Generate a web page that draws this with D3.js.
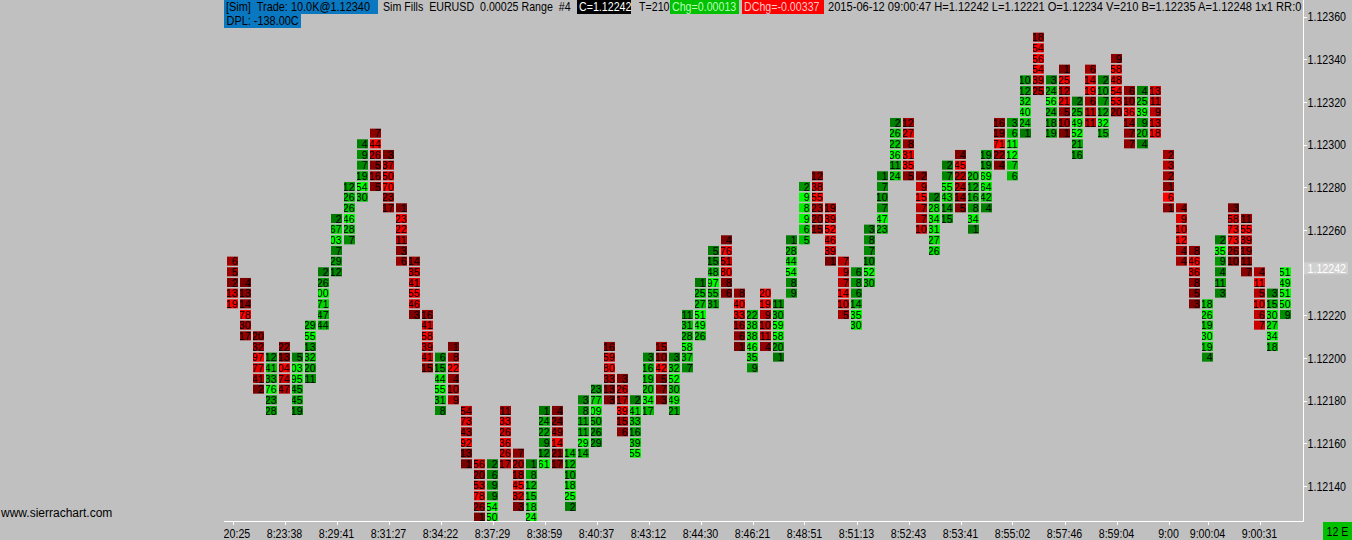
<!DOCTYPE html>
<html><head><meta charset="utf-8">
<script src="https://cdn.jsdelivr.net/npm/d3@7"></script>
<style>
html,body{margin:0;padding:0;background:#c0c0c0;overflow:hidden;}
svg{display:block;}
</style></head><body>
<svg id="c" width="1352" height="540"></svg>
<script>
// ---- data ----
const tickSize = 0.00005;
const barTop = [
 1.12245,1.12235,1.12210,1.12200,1.12205,1.12200,1.12215,1.12240,1.12265,1.12280,
 1.12300,1.12305,1.12295,1.12270,1.12245,1.12220,1.12200,1.12205,1.12175,1.12150,
 1.12150,1.12175,1.12155,1.12150,1.12175,1.12175,1.12155,1.12180,1.12185,1.12205,
 1.12190,1.12180,1.12200,1.12205,1.12200,1.12220,1.12235,1.12250,1.12255,1.12230,
 1.12220,1.12230,1.12225,1.12255,1.12280,1.12285,1.12270,1.12245,1.12240,1.12260,
 1.12285,1.12310,1.12310,1.12285,1.12275,1.12290,1.12295,1.12285,1.12295,1.12310,
 1.12310,1.12330,1.12350,1.12330,1.12335,1.12320,1.12335,1.12330,1.12340,1.12325,
 1.12325,1.12325,1.12295,1.12270,1.12250,1.12225,1.12255,1.12270,1.12265,1.12240,
 1.12230,1.12240];
const barUp = [
 0,0,0,1,0,1,1,1,1,1, 1,0,0,0,0,0,1,0,0,0, 1,0,0,1,1,0,1,1,1,0,
 0,1,1,0,1,1,1,1,0,0, 1,0,1,1,1,0,0,0,1,1, 1,1,0,0,1,1,0,1,1,0,
 1,1,0,1,0,1,0,1,0,0, 1,0,0,0,0,1,1,0,0,0, 1,1];
const barVolumes = [
 [6,5,2,13,19],[4,13,14,78,30,17],[20,32,97,77,41,2],[12,41,33,76,23,28],[22,13,104,74,47],
 [5,103,95,45,45,19],[29,55,13,32,20,11],[2,26,100,71,47,44],[2,67,103,7,29,12],[12,26,26,46,28,7],
 [4,9,7,19,54,30],[7,44,26,5,16,5],[3,37,50,70,23,17],[1,23,22,11,3,6],[14,35,41,55,46,3],
 [16,41,58,39,41,15],[6,15,44,55,31,8],[1,8,22,4,10,9],[54,73,43,92,13,1],[56,20,53,78,26,1],
 [2,6,9,9,54,50],[11,33,26,36,26,17],[7,20,18,45,32,3],[1,8,12,15,18,24],[1,24,22,9,12,61],
 [4,24,49,114,21,17],[14,12,10,18,25,2],[3,8,11,11,29,14],[23,77,109,50,26,29],[16,59,80,33,13,3],
 [3,26,17,39,15,6],[2,41,33,16,39,55],[3,16,19,20,34,17],[15,10,42,5,7,3],[3,32,52,30,49,21],
 [11,31,28,58,37,7],[1,25,27,51,49,26],[5,15,48,97,55,31],[4,76,51,80,8,6],[8,40,33,16,6,1],
 [22,38,38,46,35,9],[20,19,9,10,11,4],[11,30,59,58,20,1],[1,28,44,54,8,9],[2,9,8,9,6,5],
 [12,38,55,23,20,15],[19,39,52,46,39,1],[7,9,7,14,10,5],[6,8,6,14,35,30],[3,8,7,10,52,30],
 [1,7,10,7,47,23],[2,26,22,36,11,24],[12,27,8,31,35,5],[2,9,15,7,7,10],[2,28,34,31,27,26],
 [2,7,55,43,14,15],[4,45,22,24,14,5],[20,12,16,8,34,1],[19,19,69,64,42,4],[16,19,71,22,4],
 [3,6,11,12,7,6],[10,12,32,40,24,1],[18,54,56,54,39,25],[3,24,56,24,18,19],[1,25,12,21,5,10,1],
 [2,25,49,52,21,16],[6,14,19,6,11,11],[2,10,7,12,32,15],[9,58,48,54,53,20],[6,10,36,14,7,7],
 [4,25,39,9,20,4],[13,11,9,13,18],[2,3,2,1,6,1],[4,9,10,12,4,4],[8,46,36,8,5,3],
 [18,26,19,30,19,4],[2,35,9,4,11,3],[3,58,73,73,26,10],[11,55,39,19,11,7],[4,11,5,10,6,7],
 [3,15,30,27,34,18],[51,49,51,50,9]];
const priceTicks = [1.12140,1.12160,1.12180,1.12200,1.12220,1.12240,1.12260,1.12280,1.12300,1.12320,1.12340,1.12360];
const timeTickBars = [0,4,8,12,16,20,24,28,32,36,40,44,48,52,56,60,64,68,72,75,79];
const timeTickLabels = ["8:20:25","8:23:38","8:29:41","8:31:27","8:34:22","8:37:29","8:38:59","8:40:37","8:43:12","8:44:30","8:46:21","8:48:51","8:51:13","8:52:43","8:53:41","8:55:02","8:57:46","8:59:04","9:00","9:00:04","9:00:31"];
const lastPrice = 1.12242;
const headerTexts = ["[Sim]  Trade: 10.0K@1.12340","Sim Fills  EURUSD  0.00025 Range  #4","C=1.12242","T=210","Chg=0.00013","DChg=-0.00337","2015-06-12 09:00:47 H=1.12242 L=1.12221 O=1.12234 V=210 B=1.12235 A=1.12248 1x1 RR:0"];
const headerLine2 = "DPL: -138.00C";
const siteText = "www.sierrachart.com";
const barCountLabel = "12 E";

// ---- layout ----
const W = 1352, H = 540;
const plotLeft = 224, plotRight = 1303, plotBottom = 521;
const FONT = "'Liberation Sans',Arial,sans-serif";
const SX = 0.82;   // horizontal condensing of the UI font
const svg = d3.select("#c");
svg.append("rect").attr("width",W).attr("height",H).attr("fill","#c0c0c0");

const y = d3.scaleLinear().domain([1.12140,1.12360]).range([485.9,16.6]);
const x = d3.scaleLinear().domain([0,81]).range([227,1280]);
const cellW = 11;
const step = y(0) - y(tickSize);

function ntext(g, tx, ty, str, opts={}){
  return g.append("text")
    .attr("transform",`translate(${tx},${ty}) scale(${opts.sx||SX},1)`)
    .attr("text-anchor",opts.anchor||"start")
    .attr("xml:space","preserve")
    .style("font-family",FONT).style("font-size",(opts.size||13)+"px")
    .attr("fill",opts.fill||"#000").text(str);
}

const defs = svg.append("defs");
defs.append("clipPath").attr("id","plotClip").append("rect")
  .attr("x",plotLeft).attr("y",0).attr("width",plotRight-plotLeft).attr("height",plotBottom);

const redScale = d3.interpolateRgb("#760000","#ff0000");
const greenScale = d3.interpolateRgb("#007600","#00ff00");

const plot = svg.append("g").attr("clip-path","url(#plotClip)");

barVolumes.forEach((vols,i)=>{
  const cid = "bc"+i;
  defs.append("clipPath").attr("id",cid).append("rect")
    .attr("x",x(i)).attr("y",0).attr("width",cellW).attr("height",plotBottom);
  const maxV = d3.max(vols);
  const cells = vols.map((v,k)=>({v, p: barTop[i]-k*tickSize}));
  const g = plot.append("g").attr("clip-path",`url(#${cid})`);
  g.selectAll("rect").data(cells).join("rect")
    .attr("x",x(i)).attr("y",d=>y(d.p)-5.3).attr("width",cellW).attr("height",step-1.6)
    .attr("fill",d=>(barUp[i]?greenScale:redScale)(d.v/maxV));
  g.selectAll("text").data(cells).join("text")
    .attr("x",x(i)+cellW-0.5).attr("y",d=>y(d.p)+3.3)
    .attr("text-anchor","end")
    .style("font-family",FONT).style("font-size","10.5px")
    .attr("fill","#000").text(d=>d.v);
});

// axis lines
svg.append("line").attr("x1",plotRight+0.5).attr("x2",plotRight+0.5).attr("y1",0).attr("y2",plotBottom+0.5)
  .attr("stroke","#fff").attr("stroke-width",1);
svg.append("line").attr("x1",plotLeft).attr("x2",plotRight+1).attr("y1",plotBottom+0.5).attr("y2",plotBottom+0.5)
  .attr("stroke","#fff").attr("stroke-width",1);

// price axis (labels hidden where the last-price marker sits)
const pa = svg.append("g");
priceTicks.forEach(p=>{
  pa.append("line").attr("x1",plotRight).attr("x2",plotRight+4)
    .attr("y1",Math.round(y(p))+0.5).attr("y2",Math.round(y(p))+0.5).attr("stroke","#fff");
  if (Math.abs(y(p)-y(lastPrice)) > 12) ntext(pa, plotRight+4.5, y(p)+4.6, p.toFixed(5));
});
const lp = svg.append("g");
lp.append("rect").attr("x",plotRight+1).attr("y",y(lastPrice)-6).attr("width",44).attr("height",12).attr("fill","#d0d0d0");
ntext(lp, plotRight+4.5, y(lastPrice)+4.6, lastPrice.toFixed(5), {fill:"#fff"});

// time axis
defs.append("clipPath").attr("id","timeClip").append("rect")
  .attr("x",plotLeft).attr("y",plotBottom).attr("width",plotRight-plotLeft+20).attr("height",20);
const ta = svg.append("g").attr("clip-path","url(#timeClip)");
timeTickBars.forEach((b,j)=>{
  const cx = x(b)+cellW/2;
  ta.append("line").attr("x1",Math.round(cx)+0.5).attr("x2",Math.round(cx)+0.5)
    .attr("y1",plotBottom).attr("y2",plotBottom+4).attr("stroke","#fff");
  ntext(ta, cx, plotBottom+16.5, timeTickLabels[j], {anchor:"middle"});
});

// header
const hdr = svg.append("g").attr("clip-path","url(#plotClip)");
const hStyles = [
  {bg:"#0a78c0",fg:"#000",x0:224,w:154,sx:0.84},{bg:null,fg:"#000",x0:381,sx:0.82},
  {bg:"#000",fg:"#fff",x0:577,w:54,sx:0.82},{bg:null,fg:"#000",x0:637,sx:0.82},
  {bg:"#00c000",fg:"#b8ffb8",x0:670,w:69,sx:0.82},{bg:"#ff0000",fg:"#ffc8c8",x0:742,w:82,sx:0.82},
  {bg:null,fg:"#000",x0:826,sx:0.855}];
headerTexts.forEach((t,k)=>{
  const st = hStyles[k];
  if (st.bg) hdr.append("rect").attr("x",st.x0).attr("y",0).attr("height",14).attr("width",st.w).attr("fill",st.bg);
  ntext(hdr, st.x0+2, 11, t, {fill:st.fg, sx:st.sx});
});
hdr.append("rect").attr("x",plotLeft).attr("y",14).attr("height",14).attr("width",77).attr("fill","#0a78c0");
ntext(hdr, plotLeft+2.5, 25, headerLine2, {sx:0.84});

// site text
svg.append("text").attr("x",1).attr("y",517).style("font-family",FONT).style("font-size","12px")
  .attr("fill","#000").text(siteText);

// bar count box
svg.append("rect").attr("x",1323).attr("y",522).attr("width",29).attr("height",18).attr("fill","#00c000");
ntext(svg, 1337.5, 536, barCountLabel, {anchor:"middle"});
</script>
</body></html>
